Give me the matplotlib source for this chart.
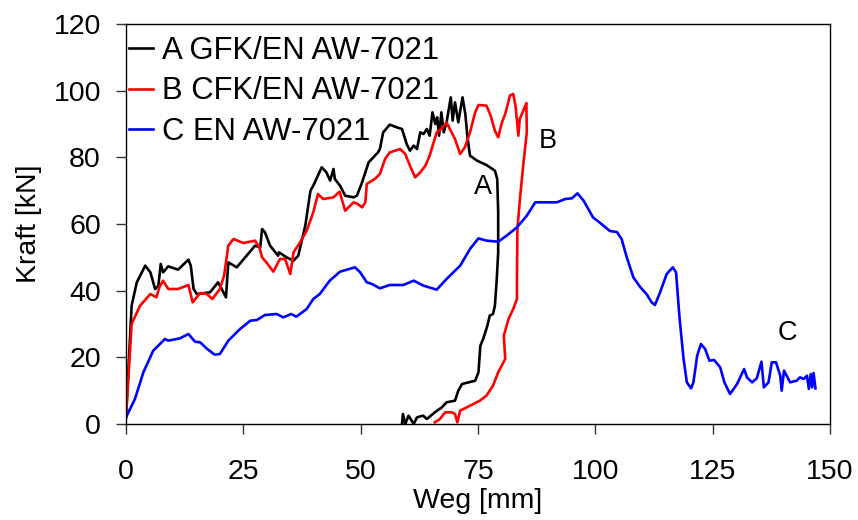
import matplotlib
matplotlib.use("Agg")
import matplotlib.pyplot as plt

plt.rcParams['font.family'] = ['Liberation Sans', 'DejaVu Sans']

# Force-displacement curves (Weg in mm, Kraft in kN)
a_weg = [0, 1.2, 2.3, 4.1, 5.2, 6.2, 6.9, 7.4, 7.9, 9.0, 11.1, 13.3, 13.8, 14.4, 15.1,
         17.9, 19.6, 20.4, 21.3, 21.8, 23.6, 25.7, 27.5, 28.6, 29.0, 29.6, 30.7, 32.4,
         32.6, 34.2, 35.7, 36.7, 38.2, 39.3, 39.9, 41.7, 42.7, 43.5, 44.2, 44.5, 45.6,
         46.7, 48.5, 49.2, 50.3, 51.7, 53.7, 54.1, 54.8, 56.2, 57.7, 58.8, 59.8, 60.5,
         61.3, 62.0, 62.7, 63.4, 64.1, 64.7, 65.3, 65.9, 66.3, 66.7, 67.2, 67.7, 68.3,
         69.2, 69.6, 70.1, 70.8, 71.7, 72.3, 72.8, 73.3, 74.8, 76.8, 78.6, 79.1, 79.3,
         79.3, 79.0, 78.6, 78.2, 77.5, 77.0, 76.1, 75.5, 75.1, 74.4, 73.0, 71.6, 70.8,
         70.1, 68.3, 67.3, 65.8, 64.1, 63.3, 62.0, 61.3, 60.2, 59.5, 59.0, 58.8]
a_kraft = [2, 35.5, 42.5, 47.5, 45.5, 40.5, 41.5, 48, 45.5, 47.3, 46.3, 49.3, 47.5, 40.5, 39,
           39.5, 42.5, 40.5, 38, 48.5, 47, 50.5, 53.5, 53, 58.5, 57.5, 53.5, 50.5,
           51.5, 50, 49, 50.5, 59.5, 70, 71.5, 77, 75.5, 73, 76.5, 73.5, 71.5,
           68.5, 68, 68.5, 72.5, 78.5, 81.5, 82.5, 87.5, 89.8, 89, 88.5, 84, 82,
           83.5, 82.5, 87.5, 87, 88.5, 86.5, 93.5, 90, 92, 86.5, 93.5, 87.5, 90.5,
           98, 91, 96.5, 90.5, 98, 93, 85.5, 80.5, 79, 77.7, 76, 73.5, 63.5,
           51.5, 43.5, 35.5, 33, 32.5, 29.5, 25.5, 23.5, 15.5, 13, 12.5, 12, 10,
           7, 6.5, 5, 3.5, 1.5, 2.5, 2, 0, 2.5, 0, 3, 0]

b_weg = [0, 1.2, 3.0, 5.2, 6.5, 7.1, 7.9, 9.0, 11.1, 13.3, 14.2, 15.8, 17.2, 18.4, 20.0,
         20.9, 21.8, 22.9, 25.0, 27.5, 28.4, 29.0, 29.9, 31.4, 32.8, 33.9, 35.0, 35.7,
         37.1, 38.5, 39.9, 40.9, 42.0, 44.2, 45.5, 46.7, 48.5, 49.4, 50.3, 51.0, 51.3,
         53.0, 54.1, 55.2, 56.2, 57.4, 58.4, 59.5, 60.5, 61.6, 62.7, 63.8, 64.7, 66.2,
         67.2, 68.3, 69.0, 70.1, 71.2, 72.2, 73.3, 74.4, 75.1, 76.8, 77.7, 78.6, 79.3,
         80.1, 80.8, 81.8, 82.5, 83.0, 83.6, 83.9, 84.8, 85.3, 85.4, 84.7, 84.0, 83.4,
         83.3, 83.3, 82.5, 81.5, 80.5, 80.8, 79.3, 78.2, 76.8, 75.4, 73.3, 71.2, 70.6,
         70.1, 69.4, 68.0, 66.9, 65.8]
b_kraft = [2, 30, 35.5, 39, 38, 41, 43, 40.5, 40.5, 41.7, 36.5, 39.3, 39, 37.5, 40.5,
           44.5, 53.5, 55.5, 54.3, 55, 53, 50, 48.5, 45.7, 49.5, 49.5, 45, 51.5,
           54.5, 58, 63.5, 69, 67.5, 68, 69.7, 64, 66.5, 66, 65, 66.5, 72,
           73.5, 75, 79.5, 81.5, 82, 82.5, 81, 77.5, 74, 75.5, 77.5, 80.5, 87.5,
           88.5, 90.5, 88.5, 85.5, 81, 83, 87.5, 93.5, 95.7, 95.5, 92.5, 88, 86,
           90.5, 93, 98.5, 99, 95.5, 86.5, 91.5, 94.5, 96.3, 87.5, 78.5, 68.5, 58.5,
           43.5, 37.5, 34.5, 31.5, 26.5, 19.5, 15.5, 11.5, 8.5, 7, 5.5, 4, 0.5,
           3, 3.5, 3.5, 1.5, 0.5]

c_weg = [0, 1.9, 3.7, 5.8, 8.3, 9.0, 11.5, 13.3, 14.7, 15.8, 17.3, 18.9, 20.0, 21.8,
         24.3, 26.5, 27.9, 29.6, 32.1, 33.5, 35.2, 36.3, 38.5, 39.9, 41.3, 43.4, 45.6,
         48.8, 49.9, 51.3, 52.4, 54.1, 56.2, 59.1, 61.3, 63.4, 66.2, 68.3, 71.2, 73.3,
         75.1, 76.8, 79.3, 81.1, 83.3, 85.4, 87.2, 88.9, 91.8, 93.6, 95.0, 96.2, 97.5,
         99.5, 101.3, 103.1, 104.6, 105.6, 106.7, 108.1, 109.6, 110.9, 112.0, 112.7,
         113.8, 115.2, 116.5, 117.2, 117.9, 118.8, 119.5, 120.4, 120.9, 121.7, 122.5,
         123.4, 124.3, 125.3, 126.6, 127.5, 128.7, 130.2, 131.2, 131.7, 132.3, 133.4,
         134.4, 135.4, 135.9, 136.9, 137.6, 138.5, 139.4, 139.7, 140.2, 141.5, 142.9,
         143.6, 144.4, 145.1, 145.5, 145.9, 146.2, 146.5, 146.9]
c_kraft = [2, 7.5, 15.5, 22, 25.5, 25, 25.7, 27, 24.7, 24.5, 22.5, 20.8, 21, 25,
           28.5, 31, 31.2, 32.7, 33, 32, 33, 32.2, 34.5, 37.5, 39, 43, 45.7,
           47, 45.5, 42.5, 42, 40.7, 41.7, 41.7, 43, 41.5, 40.3, 43.5, 47.5, 52.5,
           55.7, 55, 54.7, 56.5, 59, 62.5, 66.5, 66.5, 66.5, 67.5, 67.7, 69.2, 67,
           62, 60, 57.9, 57.6, 55.5, 50, 44, 41, 39, 36.5, 35.7,
           39.5, 45, 47, 45.5, 32.5, 19.5, 12.5, 10.7, 12.5, 20.5, 24,
           22.5, 19, 19.2, 17, 12.5, 9, 12, 15, 16.5, 14, 12.5,
           13.7, 18.7, 11, 12.5, 18.5, 18.5, 14.5, 10, 16, 12.5, 13,
           14, 13.5, 14.5, 10.5, 15, 11, 15.3, 10.7]

series_labels = ['A GFK/EN AW-7021', 'B CFK/EN AW-7021', 'C EN AW-7021']
series_colors = ['black', '#ff0000', '#0000ff']

# curve tags placed next to each curve
tag_text = ['A', 'B', 'C']
tag_weg = [76.1, 89.9, 140.9]
tag_kraft = [71.1, 84.9, 27.3]

x_ticks = [0, 25, 50, 75, 100, 125, 150]
y_ticks = [0, 20, 40, 60, 80, 100, 120]

FS = 20.5
FS_LEG = 22.3
FS_TAG = 19.5

fig = plt.figure(figsize=(8.58, 5.2), dpi=100)
ax = fig.add_axes([126 / 858, 96 / 520, 704 / 858, 400 / 520])

data = [(a_weg, a_kraft), (b_weg, b_kraft), (c_weg, c_kraft)]
for (xs, ys), lab, col in zip(data, series_labels, series_colors):
    ax.plot(xs, ys, color=col, lw=1.9, label=lab, solid_joinstyle='round')

for t, x, y in zip(tag_text, tag_weg, tag_kraft):
    ax.text(x, y, t, fontsize=FS_TAG, ha='center', va='center', color='black')

ax.set_xlim(0, 150)
ax.set_ylim(0, 120)
ax.set_xticks(x_ticks)
ax.set_yticks(y_ticks)
ax.tick_params(axis='both', direction='out', length=7, width=1, color='#333333',
               labelsize=FS)
ax.tick_params(axis='x', pad=18.5)
ax.tick_params(axis='y', pad=11)
for s in ax.spines.values():
    s.set_linewidth(1.0)
    s.set_color('black')

ax.set_xlabel('Weg [mm]', fontsize=FS, labelpad=1.5)
ax.set_ylabel('Kraft [kN]', fontsize=FS, labelpad=8)

ax.legend(loc='upper left', bbox_to_anchor=(0.0, 0.978), frameon=False,
          fontsize=FS_LEG, handlelength=0.78, handletextpad=0.28, labelspacing=0.34,
          borderaxespad=0, borderpad=0.1)

fig.savefig('out.png', dpi=100)
